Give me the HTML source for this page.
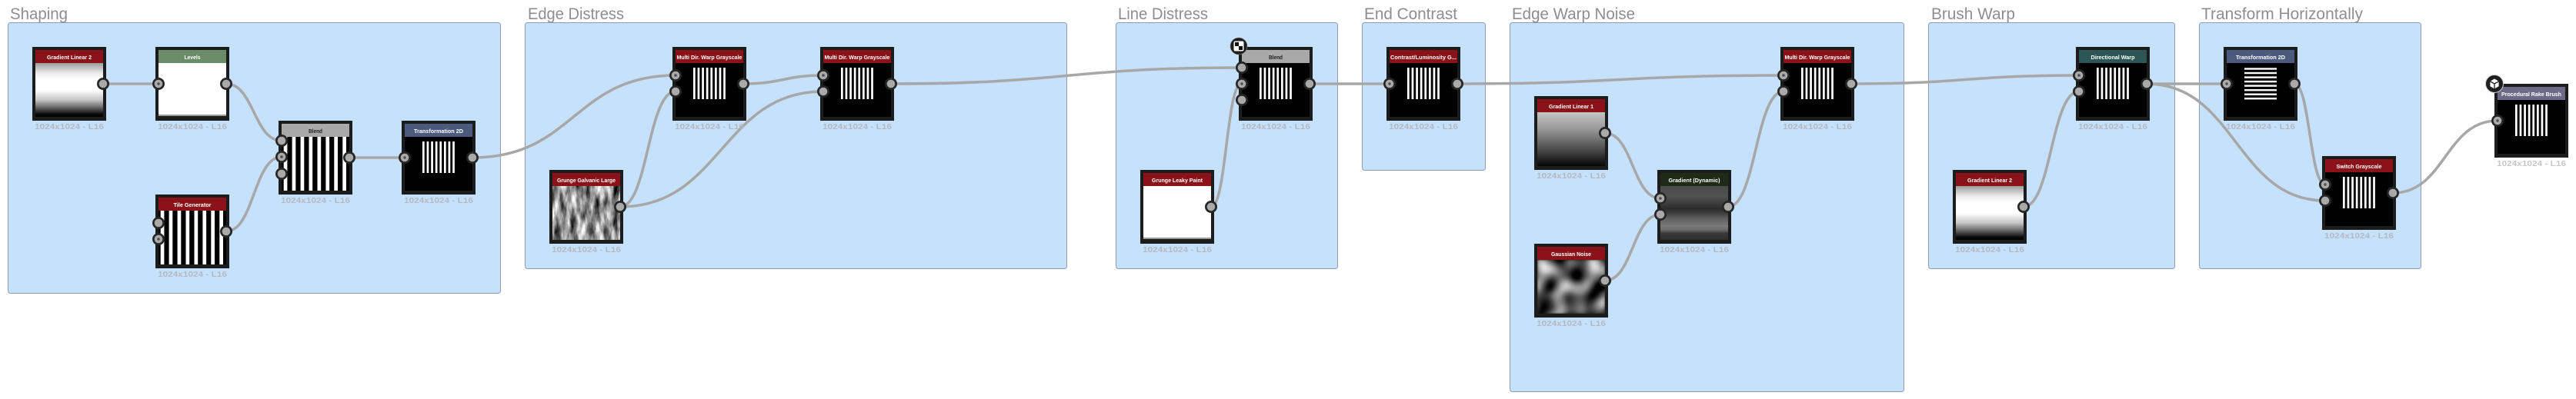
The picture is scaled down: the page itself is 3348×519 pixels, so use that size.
<!DOCTYPE html>
<html><head><meta charset="utf-8">
<style>
html,body{margin:0;padding:0;background:#fff;width:3348px;height:519px;overflow:hidden}
svg{display:block}
.h{font-family:"Liberation Sans",sans-serif;font-weight:bold;font-size:7px;fill:#fff;text-anchor:middle}
.hd{font-family:"Liberation Sans",sans-serif;font-weight:bold;font-size:7px;fill:#222;text-anchor:middle}
.l{font-family:"Liberation Sans",sans-serif;font-weight:bold;font-size:10px;fill:#b2b9c1;text-anchor:middle}
.lw{font-family:"Liberation Sans",sans-serif;font-weight:bold;font-size:10px;fill:#c6c6c6;text-anchor:middle}
.t{font-family:"Liberation Sans",sans-serif;font-size:21px;fill:#8e8e8e}
</style></head>
<body>
<svg width="3348" height="519" viewBox="0 0 3348 519" xmlns="http://www.w3.org/2000/svg">
<defs>
<linearGradient id="gl2" x1="0" y1="0" x2="0" y2="1">
<stop offset="0" stop-color="#9c9c9c"/><stop offset="0.18" stop-color="#e8e8e8"/><stop offset="0.3" stop-color="#fff"/><stop offset="0.5" stop-color="#fff"/><stop offset="0.68" stop-color="#c8c8c8"/><stop offset="0.82" stop-color="#6a6a6a"/><stop offset="0.95" stop-color="#0a0a0a"/><stop offset="1" stop-color="#000"/>
</linearGradient>
<linearGradient id="gl1" x1="0" y1="0" x2="0" y2="1">
<stop offset="0" stop-color="#c4c4c4"/><stop offset="0.3" stop-color="#9a9a9a"/><stop offset="0.7" stop-color="#4a4a4a"/><stop offset="1" stop-color="#050505"/>
</linearGradient>
<linearGradient id="gd" x1="0" y1="0" x2="0" y2="1">
<stop offset="0" stop-color="#4a4a4a"/><stop offset="0.19" stop-color="#525252"/><stop offset="0.33" stop-color="#3c3c3c"/><stop offset="0.42" stop-color="#2b2b2b"/><stop offset="0.51" stop-color="#404040"/><stop offset="0.6" stop-color="#5e5e5e"/><stop offset="0.74" stop-color="#7a7a7a"/><stop offset="0.81" stop-color="#6c6c6c"/><stop offset="0.88" stop-color="#3a3a3a"/><stop offset="1" stop-color="#2e2e2e"/>
</linearGradient>
<filter id="galv" x="0" y="0" width="1" height="1" color-interpolation-filters="sRGB">
<feTurbulence type="fractalNoise" baseFrequency="0.11 0.03" numOctaves="5" seed="7"/>
<feColorMatrix type="matrix" values="1.8 0 0 0 -0.33  1.8 0 0 0 -0.33  1.8 0 0 0 -0.33  0 0 0 0 1"/>
</filter>
<filter id="gauss" x="0" y="0" width="1" height="1" color-interpolation-filters="sRGB">
<feTurbulence type="fractalNoise" baseFrequency="0.045" numOctaves="1" seed="3"/>
<feColorMatrix type="matrix" values="2.0 0 0 0 -0.68  2.0 0 0 0 -0.68  2.0 0 0 0 -0.68  0 0 0 0 1"/>
<feGaussianBlur stdDeviation="1.2"/>
</filter>
<g id="ss">
<rect x="27" y="27" width="2.7" height="41" fill="#fff"/><rect x="32.6" y="27" width="2.7" height="41" fill="#fff"/><rect x="38.2" y="27" width="2.7" height="41" fill="#fff"/><rect x="43.8" y="27" width="2.7" height="41" fill="#fff"/><rect x="49.4" y="27" width="2.7" height="41" fill="#fff"/><rect x="55" y="27" width="2.7" height="41" fill="#fff"/><rect x="60.6" y="27" width="2.7" height="41" fill="#fff"/><rect x="66.2" y="27" width="2.7" height="41" fill="#fff"/>
</g>
<g id="hs">
<rect x="27" y="27.3" width="42" height="2.4" fill="#fff"/><rect x="27" y="32.8" width="42" height="2.4" fill="#fff"/><rect x="27" y="38.4" width="42" height="2.4" fill="#fff"/><rect x="27" y="43.9" width="42" height="2.4" fill="#fff"/><rect x="27" y="49.4" width="42" height="2.4" fill="#fff"/><rect x="27" y="55" width="42" height="2.4" fill="#fff"/><rect x="27" y="60.5" width="42" height="2.4" fill="#fff"/><rect x="27" y="66" width="42" height="2.4" fill="#fff"/>
</g>
<g id="bs">
<rect x="6.7" y="21" width="4.7" height="70" fill="#fff"/><rect x="17.6" y="21" width="4.7" height="70" fill="#fff"/><rect x="28.6" y="21" width="4.7" height="70" fill="#fff"/><rect x="39.5" y="21" width="4.7" height="70" fill="#fff"/><rect x="50.5" y="21" width="4.7" height="70" fill="#fff"/><rect x="61.4" y="21" width="4.7" height="70" fill="#fff"/><rect x="72.3" y="21" width="4.7" height="70" fill="#fff"/><rect x="83.3" y="21" width="4.7" height="70" fill="#fff"/>
</g>
<g id="po"><circle r="8" fill="#262626"/><circle r="5.3" fill="#a9a9a9"/></g>
<g id="pd"><circle r="8" fill="#262626"/><circle r="5.3" fill="#a9a9a9"/><circle r="1.7" fill="#4d4d4d"/></g>
</defs>

<!-- Group boxes -->
<g fill="#c6e1fc" stroke="#8b9bb4" stroke-width="1">
<rect x="10.5" y="29.5" width="640" height="352" rx="3"/>
<rect x="682.5" y="29.5" width="704" height="320" rx="3"/>
<rect x="1450.5" y="29.5" width="288" height="320" rx="3"/>
<rect x="1770.5" y="29.5" width="160" height="192" rx="3"/>
<rect x="1962.5" y="29.5" width="512" height="480" rx="3"/>
<rect x="2506.5" y="29.5" width="320" height="320" rx="3"/>
<rect x="2858.5" y="29.5" width="288" height="320" rx="3"/>
</g>

<!-- Titles -->
<text class="t" x="13" y="25" textLength="75" lengthAdjust="spacingAndGlyphs">Shaping</text>
<text class="t" x="686" y="25" textLength="125" lengthAdjust="spacingAndGlyphs">Edge Distress</text>
<text class="t" x="1453" y="25" textLength="117" lengthAdjust="spacingAndGlyphs">Line Distress</text>
<text class="t" x="1773" y="25" textLength="121" lengthAdjust="spacingAndGlyphs">End Contrast</text>
<text class="t" x="1965" y="25" textLength="160" lengthAdjust="spacingAndGlyphs">Edge Warp Noise</text>
<text class="t" x="2510" y="25" textLength="109" lengthAdjust="spacingAndGlyphs">Brush Warp</text>
<text class="t" x="2861" y="25" textLength="210" lengthAdjust="spacingAndGlyphs">Transform Horizontally</text>

<!-- Connectors -->
<g fill="none" stroke="#a7a7a7" stroke-width="3.5">
<path d="M134 109 L206 109"/>
<path d="M294 109 C330 109 330 183 366 183"/>
<path d="M294 301 C330 301 330 204 366 204"/>
<path d="M454 205 L526 205"/>
<path d="M614 205 C746 205 746 98 878 98"/>
<path d="M806 269 C842 269 842 119 878 119"/>
<path d="M806 269 C938 269 938 119 1070 119"/>
<path d="M966 109 C1018 109 1018 98 1070 98"/>
<path d="M1158 109 C1386 109 1386 88 1614 88"/>
<path d="M1574 269 C1594 269 1594 108 1614 108"/>
<path d="M1702 109 L1806 109"/>
<path d="M1894 109 C2106 109 2106 98 2318 98"/>
<path d="M2086 173 C2122 173 2122 258 2158 258"/>
<path d="M2086 365 C2122 365 2122 279 2158 279"/>
<path d="M2246 269 C2282 269 2282 119 2318 119"/>
<path d="M2406 109 C2554 109 2554 98 2702 98"/>
<path d="M2630 269 C2666 269 2666 119 2702 119"/>
<path d="M2790 109 L2894 109"/>
<path d="M2790 109 C2906 109 2906 261 3022 261"/>
<path d="M2982 109 C3002 109 3002 240 3022 240"/>
<path d="M3110 251 C3178 251 3178 157 3246 157"/>
</g>

<!-- Shaping nodes -->
<g transform="translate(42,61)">
<rect width="96" height="96" fill="#1c1c1c"/><rect x="4" y="4" width="88" height="17" fill="#8a1218"/>
<rect x="4" y="21" width="88" height="70" fill="url(#gl2)"/>
<text class="h" x="48" y="15.8" textLength="58" lengthAdjust="spacingAndGlyphs">Gradient Linear 2</text>
<text class="l" x="48" y="107" textLength="90" lengthAdjust="spacingAndGlyphs">1024x1024 - L16</text>
<use href="#po" x="92" y="48"/>
</g>
<g transform="translate(202,61)">
<rect width="96" height="96" fill="#1c1c1c"/><rect x="4" y="4" width="88" height="17" fill="#6a8c68"/>
<rect x="4" y="21" width="88" height="67" fill="#fff"/><rect x="4" y="88" width="88" height="2" fill="#9a9a9a"/>
<text class="h" x="48" y="15.8" textLength="21" lengthAdjust="spacingAndGlyphs">Levels</text>
<text class="l" x="48" y="107" textLength="90" lengthAdjust="spacingAndGlyphs">1024x1024 - L16</text>
<use href="#pd" x="4" y="48"/><use href="#po" x="92" y="48"/>
</g>
<g transform="translate(362,157)">
<rect width="96" height="96" fill="#1c1c1c"/><rect x="4" y="4" width="88" height="17" fill="#a8a8a8"/>
<rect x="4" y="21" width="88" height="70" fill="#000"/><use href="#bs"/>
<text class="hd" x="48" y="15.8" textLength="18" lengthAdjust="spacingAndGlyphs">Blend</text>
<text class="l" x="48" y="107" textLength="90" lengthAdjust="spacingAndGlyphs">1024x1024 - L16</text>
<use href="#po" x="4" y="26"/><use href="#pd" x="4" y="47"/><use href="#po" x="4" y="69"/><use href="#po" x="92" y="48"/>
</g>
<g transform="translate(522,157)">
<rect width="96" height="96" fill="#1c1c1c"/><rect x="4" y="4" width="88" height="17" fill="#4c5a7e"/>
<rect x="4" y="21" width="88" height="70" fill="#000"/><use href="#ss"/>
<text class="h" x="48" y="15.8" textLength="64" lengthAdjust="spacingAndGlyphs">Transformation 2D</text>
<text class="l" x="48" y="107" textLength="90" lengthAdjust="spacingAndGlyphs">1024x1024 - L16</text>
<use href="#pd" x="4" y="48"/><use href="#po" x="92" y="48"/>
</g>
<g transform="translate(202,253)">
<rect width="96" height="96" fill="#1c1c1c"/><rect x="4" y="4" width="88" height="17" fill="#8a1218"/>
<rect x="4" y="21" width="88" height="70" fill="#000"/><use href="#bs"/>
<text class="h" x="48" y="15.8" textLength="49" lengthAdjust="spacingAndGlyphs">Tile Generator</text>
<text class="l" x="48" y="107" textLength="90" lengthAdjust="spacingAndGlyphs">1024x1024 - L16</text>
<use href="#po" x="4" y="37"/><use href="#pd" x="4" y="58"/><use href="#po" x="92" y="48"/>
</g>

<!-- Edge Distress -->
<g transform="translate(714,221)">
<rect width="96" height="96" fill="#1c1c1c"/><rect x="4" y="4" width="88" height="17" fill="#8a1218"/>
<rect x="4" y="21" width="88" height="70" fill="#8c8c8c" filter="url(#galv)"/>
<text class="h" x="48" y="15.8" textLength="76" lengthAdjust="spacingAndGlyphs">Grunge Galvanic Large</text>
<text class="l" x="48" y="107" textLength="90" lengthAdjust="spacingAndGlyphs">1024x1024 - L16</text>
<use href="#po" x="92" y="48"/>
</g>
<g transform="translate(874,61)">
<rect width="96" height="96" fill="#1c1c1c"/><rect x="4" y="4" width="88" height="17" fill="#8a1218"/>
<rect x="4" y="21" width="88" height="70" fill="#000"/><use href="#ss"/>
<text class="h" x="48" y="15.8" textLength="85" lengthAdjust="spacingAndGlyphs">Multi Dir. Warp Grayscale</text>
<text class="l" x="48" y="107" textLength="90" lengthAdjust="spacingAndGlyphs">1024x1024 - L16</text>
<use href="#pd" x="4" y="37"/><use href="#po" x="4" y="58"/><use href="#po" x="92" y="48"/>
</g>
<g transform="translate(1066,61)">
<rect width="96" height="96" fill="#1c1c1c"/><rect x="4" y="4" width="88" height="17" fill="#8a1218"/>
<rect x="4" y="21" width="88" height="70" fill="#000"/><use href="#ss"/>
<text class="h" x="48" y="15.8" textLength="85" lengthAdjust="spacingAndGlyphs">Multi Dir. Warp Grayscale</text>
<text class="l" x="48" y="107" textLength="90" lengthAdjust="spacingAndGlyphs">1024x1024 - L16</text>
<use href="#pd" x="4" y="37"/><use href="#po" x="4" y="58"/><use href="#po" x="92" y="48"/>
</g>

<!-- Line Distress -->
<g transform="translate(1482,221)">
<rect width="96" height="96" fill="#1c1c1c"/><rect x="4" y="4" width="88" height="17" fill="#8a1218"/>
<rect x="4" y="21" width="88" height="67" fill="#fff"/><rect x="4" y="88" width="88" height="2" fill="#9a9a9a"/>
<text class="h" x="48" y="15.8" textLength="66" lengthAdjust="spacingAndGlyphs">Grunge Leaky Paint</text>
<text class="l" x="48" y="107" textLength="90" lengthAdjust="spacingAndGlyphs">1024x1024 - L16</text>
<use href="#po" x="92" y="48"/>
</g>
<g transform="translate(1610,61)">
<rect width="96" height="96" fill="#1c1c1c"/><rect x="4" y="4" width="88" height="17" fill="#a8a8a8"/>
<rect x="4" y="21" width="88" height="70" fill="#000"/><use href="#ss"/>
<text class="hd" x="48" y="15.8" textLength="18" lengthAdjust="spacingAndGlyphs">Blend</text>
<text class="l" x="48" y="107" textLength="90" lengthAdjust="spacingAndGlyphs">1024x1024 - L16</text>
<use href="#po" x="4" y="27"/><use href="#pd" x="4" y="48"/><use href="#po" x="4" y="69"/><use href="#po" x="92" y="48"/>
<circle cx="0" cy="-1" r="11" fill="#1e1e1e" stroke="#888" stroke-width="0.6"/>
<rect x="-6.5" y="-7.5" width="13" height="13" rx="2" fill="#fff"/>
<rect x="-5" y="-6" width="5" height="5" fill="#111"/><rect x="0" y="-1" width="5" height="5" fill="#111"/>
</g>

<!-- End Contrast -->
<g transform="translate(1802,61)">
<rect width="96" height="96" fill="#1c1c1c"/><rect x="4" y="4" width="88" height="17" fill="#8a1218"/>
<rect x="4" y="21" width="88" height="70" fill="#000"/><use href="#ss"/>
<text class="h" x="48" y="15.8" textLength="86" lengthAdjust="spacingAndGlyphs">Contrast/Luminosity G...</text>
<text class="l" x="48" y="107" textLength="90" lengthAdjust="spacingAndGlyphs">1024x1024 - L16</text>
<use href="#pd" x="4" y="48"/><use href="#po" x="92" y="48"/>
</g>

<!-- Edge Warp Noise -->
<g transform="translate(1994,125)">
<rect width="96" height="96" fill="#1c1c1c"/><rect x="4" y="4" width="88" height="17" fill="#8a1218"/>
<rect x="4" y="21" width="88" height="70" fill="url(#gl1)"/>
<text class="h" x="48" y="15.8" textLength="58" lengthAdjust="spacingAndGlyphs">Gradient Linear 1</text>
<text class="l" x="48" y="107" textLength="90" lengthAdjust="spacingAndGlyphs">1024x1024 - L16</text>
<use href="#po" x="92" y="48"/>
</g>
<g transform="translate(1994,317)">
<rect width="96" height="96" fill="#1c1c1c"/><rect x="4" y="4" width="88" height="17" fill="#8a1218"/>
<rect x="4" y="21" width="88" height="70" fill="#4a4a4a" filter="url(#gauss)"/>
<text class="h" x="48" y="15.8" textLength="52" lengthAdjust="spacingAndGlyphs">Gaussian Noise</text>
<text class="l" x="48" y="107" textLength="90" lengthAdjust="spacingAndGlyphs">1024x1024 - L16</text>
<use href="#po" x="92" y="48"/>
</g>
<g transform="translate(2154,221)">
<rect width="96" height="96" fill="#1c1c1c"/><rect x="4" y="4" width="88" height="17" fill="#1f2a17"/>
<rect x="4" y="21" width="88" height="70" fill="url(#gd)"/>
<text class="h" x="48" y="15.8" textLength="67" lengthAdjust="spacingAndGlyphs">Gradient (Dynamic)</text>
<text class="l" x="48" y="107" textLength="90" lengthAdjust="spacingAndGlyphs">1024x1024 - L16</text>
<use href="#pd" x="4" y="37"/><use href="#po" x="4" y="58"/><use href="#po" x="92" y="48"/>
</g>
<g transform="translate(2314,61)">
<rect width="96" height="96" fill="#1c1c1c"/><rect x="4" y="4" width="88" height="17" fill="#8a1218"/>
<rect x="4" y="21" width="88" height="70" fill="#000"/><use href="#ss"/>
<text class="h" x="48" y="15.8" textLength="85" lengthAdjust="spacingAndGlyphs">Multi Dir. Warp Grayscale</text>
<text class="l" x="48" y="107" textLength="90" lengthAdjust="spacingAndGlyphs">1024x1024 - L16</text>
<use href="#pd" x="4" y="37"/><use href="#po" x="4" y="58"/><use href="#po" x="92" y="48"/>
</g>

<!-- Brush Warp -->
<g transform="translate(2538,221)">
<rect width="96" height="96" fill="#1c1c1c"/><rect x="4" y="4" width="88" height="17" fill="#8a1218"/>
<rect x="4" y="21" width="88" height="70" fill="url(#gl2)"/>
<text class="h" x="48" y="15.8" textLength="58" lengthAdjust="spacingAndGlyphs">Gradient Linear 2</text>
<text class="l" x="48" y="107" textLength="90" lengthAdjust="spacingAndGlyphs">1024x1024 - L16</text>
<use href="#po" x="92" y="48"/>
</g>
<g transform="translate(2698,61)">
<rect width="96" height="96" fill="#1c1c1c"/><rect x="4" y="4" width="88" height="17" fill="#2d5656"/>
<rect x="4" y="21" width="88" height="70" fill="#000"/><use href="#ss"/>
<text class="h" x="48" y="15.8" textLength="57" lengthAdjust="spacingAndGlyphs">Directional Warp</text>
<text class="l" x="48" y="107" textLength="90" lengthAdjust="spacingAndGlyphs">1024x1024 - L16</text>
<use href="#pd" x="4" y="37"/><use href="#po" x="4" y="58"/><use href="#po" x="92" y="48"/>
</g>

<!-- Transform Horizontally -->
<g transform="translate(2890,61)">
<rect width="96" height="96" fill="#1c1c1c"/><rect x="4" y="4" width="88" height="17" fill="#4c5a7e"/>
<rect x="4" y="21" width="88" height="70" fill="#000"/><use href="#hs"/>
<text class="h" x="48" y="15.8" textLength="64" lengthAdjust="spacingAndGlyphs">Transformation 2D</text>
<text class="l" x="48" y="107" textLength="90" lengthAdjust="spacingAndGlyphs">1024x1024 - L16</text>
<use href="#pd" x="4" y="48"/><use href="#po" x="92" y="48"/>
</g>
<g transform="translate(3018,203)">
<rect width="96" height="96" fill="#1c1c1c"/><rect x="4" y="4" width="88" height="17" fill="#8a1218"/>
<rect x="4" y="21" width="88" height="70" fill="#000"/><use href="#ss"/>
<text class="h" x="48" y="15.8" textLength="59" lengthAdjust="spacingAndGlyphs">Switch Grayscale</text>
<text class="l" x="48" y="107" textLength="90" lengthAdjust="spacingAndGlyphs">1024x1024 - L16</text>
<use href="#pd" x="4" y="37"/><use href="#po" x="4" y="58"/><use href="#po" x="92" y="48"/>
</g>

<!-- Output node -->
<g transform="translate(3242,109)">
<rect width="96" height="96" fill="#1c1c1c"/><rect x="4" y="4" width="88" height="17" fill="#6d6a88"/>
<rect x="4" y="21" width="88" height="70" fill="#000"/><use href="#ss"/>
<text class="h" x="48" y="15.8" textLength="78" lengthAdjust="spacingAndGlyphs">Procedural Rake Brush</text>
<text class="lw" x="48" y="107" textLength="90" lengthAdjust="spacingAndGlyphs">1024x1024 - L16</text>
<use href="#pd" x="4" y="48"/>
<circle cx="0" cy="0" r="11.5" fill="#1e1e1e" stroke="#cfcfcf" stroke-width="1"/>
<polygon points="0,-6.5 5.6,-3.2 5.6,3.2 0,6.5 -5.6,3.2 -5.6,-3.2" fill="#fff"/>
<path d="M0 0 L-5.6 -3.2 M0 0 L5.6 -3.2 M0 0 L0 6.5" stroke="#1e1e1e" stroke-width="1.3" fill="none"/>
</g>
</svg>
</body></html>
